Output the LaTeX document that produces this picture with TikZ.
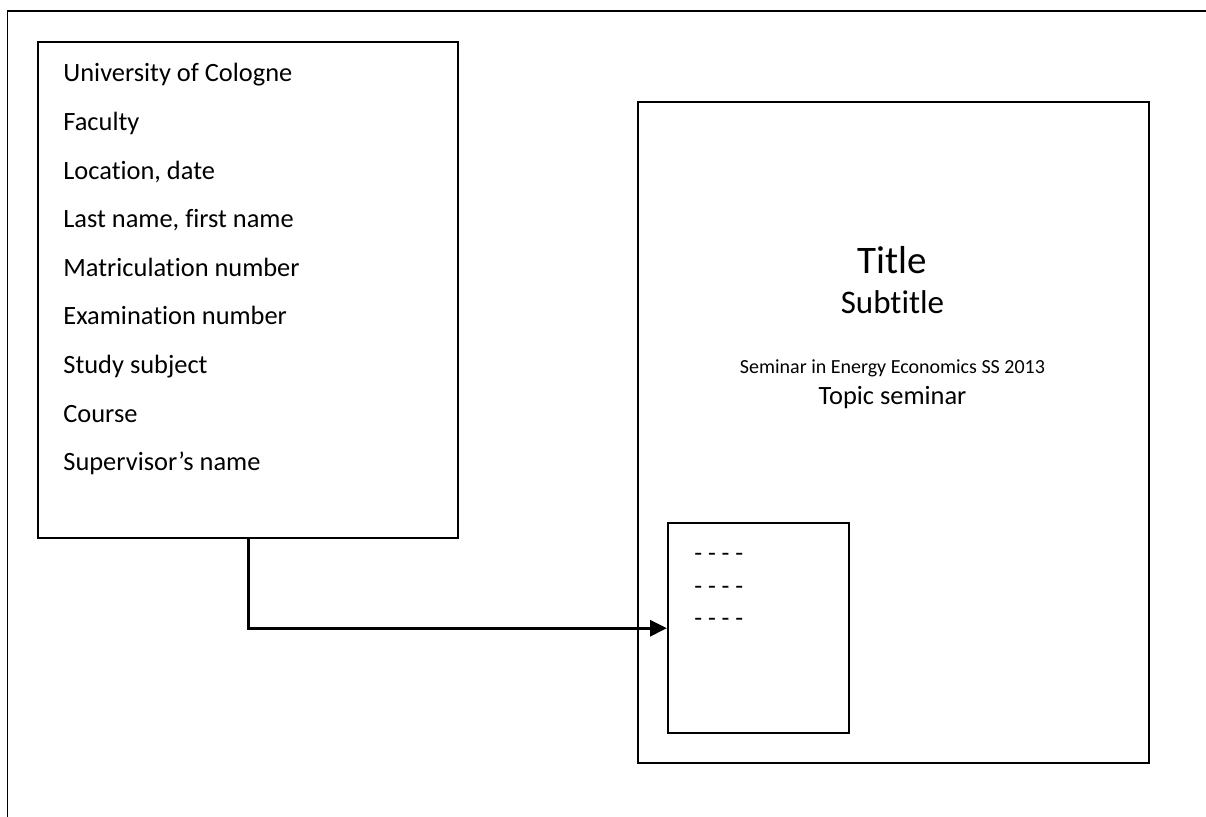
\documentclass[tikz,border=0pt]{standalone}
\usepackage{fontspec}
\setmainfont{Carlito}[Ligatures=NoCommon]
\usetikzlibrary{arrows.meta}
\begin{document}
\begin{tikzpicture}[x=0.5pt,y=-0.5pt,
  boxstyle/.style={draw,line width=1.2pt,inner sep=0pt,anchor=north west},
  item/.style={anchor=base west,inner sep=0pt,font=\fontsize{13.2}{15}\selectfont},
  dashtext/.style={anchor=base west,inner sep=0pt,font=\fontsize{12.8}{15}\selectfont},
  ctext/.style={anchor=base,inner sep=0pt},
  arr/.style={line width=1.5pt,-{Triangle[length=8.5pt,width=8pt]}}]
\useasboundingbox (0,0) rectangle (1206,817);
% outer frame
\draw[line width=0.8pt] (7.5,817) -- (7.5,11) -- (1206,11);
% left box
\node[boxstyle,minimum width=210pt,minimum height=248pt] (left) at (37,41) {};
\foreach \t [count=\i from 0] in {{University of Cologne},{Faculty},{Location, date},{Last name, first name},{Matriculation number},{Examination number},{Study subject},{Course},{Supervisor’s name}}
  \node[item] (item\i) at (63,82+48.6*\i) {\t};
% right box
\node[boxstyle,minimum width=255.5pt,minimum height=330.5pt] (right) at (637,101) {};
\node[ctext,font=\fontsize{19.5}{22}\selectfont] (title) at (892.5,274) {Title};
\node[ctext,font=\fontsize{16.5}{19}\selectfont] (subtitle) at (892.5,314) {Subtitle};
\node[ctext,font=\fontsize{10}{12}\selectfont] (seminar) at (892.5,374) {Seminar in Energy Economics SS 2013};
\node[ctext,font=\fontsize{13.2}{15}\selectfont] (topic) at (892.5,405) {Topic seminar};
% small box
\node[boxstyle,minimum width=90.5pt,minimum height=105pt] (small) at (667,522) {};
\foreach \y [count=\i] in {562,595,627}
  \node[dashtext] (dash\i) at (694,\y) {- - - -};
% connector
\draw[arr] (left.south) |- (small.west);
\end{tikzpicture}
\end{document}
